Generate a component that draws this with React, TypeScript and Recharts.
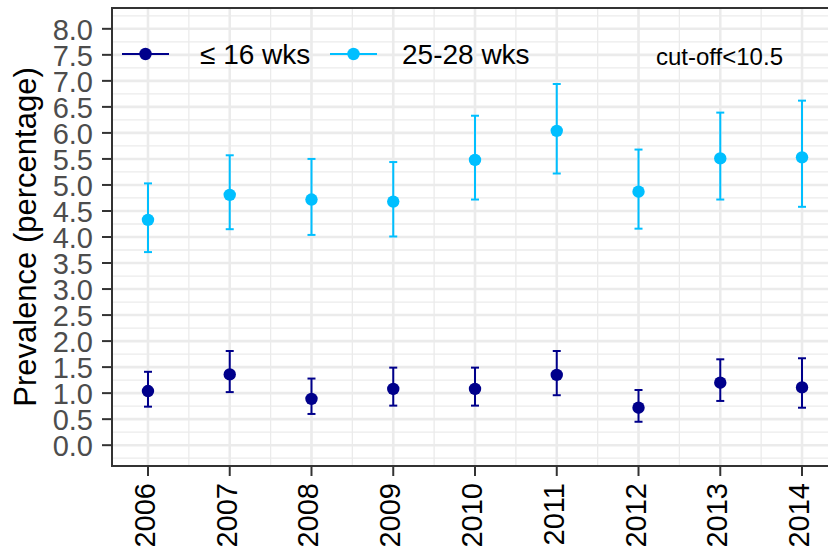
import React from "react";
import {
  ComposedChart,
  Scatter,
  ErrorBar,
  XAxis,
  YAxis,
  CartesianGrid,
  ReferenceArea,
} from "recharts";

// years on the x axis
const years = [2006, 2007, 2008, 2009, 2010, 2011, 2012, 2013, 2014];

// <= 16 weeks (navy)
const earlyValue = [1.04, 1.36, 0.89, 1.08, 1.08, 1.35, 0.72, 1.2, 1.11];
const earlyLow = [0.74, 1.02, 0.6, 0.76, 0.76, 0.96, 0.45, 0.85, 0.72];
const earlyHigh = [1.41, 1.81, 1.28, 1.49, 1.49, 1.81, 1.06, 1.65, 1.67];

// 25-28 weeks (sky blue)
const lateValue = [4.33, 4.81, 4.72, 4.68, 5.48, 6.04, 4.87, 5.51, 5.53];
const lateLow = [3.71, 4.15, 4.04, 4.01, 4.72, 5.22, 4.16, 4.72, 4.58];
const lateHigh = [5.03, 5.57, 5.5, 5.44, 6.33, 6.94, 5.68, 6.39, 6.62];

const yTicks = [0, 0.5, 1, 1.5, 2, 2.5, 3, 3.5, 4, 4.5, 5, 5.5, 6, 6.5, 7, 7.5, 8];
const yMinor = [-0.25, 0.25, 0.75, 1.25, 1.75, 2.25, 2.75, 3.25, 3.75, 4.25, 4.75, 5.25, 5.75, 6.25, 6.75, 7.25, 7.75, 8.25];
const xMinor = [2006.5, 2007.5, 2008.5, 2009.5, 2010.5, 2011.5, 2012.5, 2013.5];

const X_DOMAIN: [number, number] = [2005.56, 2014.44];
const Y_DOMAIN: [number, number] = [-0.4, 8.4];

const NAVY = "#00008B";
const SKY = "#00BFFF";
const FONT = "'Liberation Sans', Arial, sans-serif";

const build = (v: number[], lo: number[], hi: number[]) =>
  years.map((year, i) => ({ year, v: v[i], err: [v[i] - lo[i], hi[i] - v[i]] }));

const earlyData = build(earlyValue, earlyLow, earlyHigh);
const lateData = build(lateValue, lateLow, lateHigh);

const dot = (color: string) => (props: any) =>
  <circle cx={props.cx} cy={props.cy} r={6.2} fill={color} />;

const XTick = (props: any) => {
  const { x, y, payload } = props;
  return (
    <text
      x={x}
      y={y}
      dy={7}
      transform={`rotate(-90, ${x}, ${y})`}
      textAnchor="end"
      fill="#000"
      fontSize={29}
      fontFamily={FONT}
    >
      {payload.value}
    </text>
  );
};

const YTick = (props: any) => {
  const { x, y, payload } = props;
  return (
    <text
      x={x}
      y={y}
      dy={11}
      textAnchor="end"
      fill="#4D4D4D"
      fontSize={29}
      fontFamily={FONT}
    >
      {Number(payload.value).toFixed(1)}
    </text>
  );
};

const YTitle = () => (
  <text
    x={36}
    y={237}
    transform="rotate(-90, 36, 237)"
    textAnchor="middle"
    fontSize={31}
    fontFamily={FONT}
    fill="#000"
  >
    Prevalence (percentage)
  </text>
);

export default function App() {
  return (
    <div
      style={{
        position: "fixed",
        left: 0,
        top: 0,
        width: 828,
        height: 552,
        overflow: "hidden",
        background: "#fff",
        fontFamily: FONT,
      }}
    >
      <ComposedChart
        width={840}
        height={552}
        margin={{ top: 8, right: 2, bottom: 0, left: 0 }}
      >
        {/* minor grid */}
        <CartesianGrid
          stroke="#EBEBEB"
          strokeWidth={1.3}
          horizontalValues={yMinor}
          verticalValues={xMinor}
        />
        {/* major grid */}
        <CartesianGrid
          stroke="#EBEBEB"
          strokeWidth={2.6}
          horizontalValues={yTicks}
          verticalValues={years}
        />
        <XAxis
          type="number"
          dataKey="year"
          domain={X_DOMAIN}
          ticks={years}
          interval={0}
          allowDataOverflow
          height={86}
          tickSize={10}
          tickMargin={7}
          axisLine={false}
          tickLine={{ stroke: "#333333", strokeWidth: 2 }}
          tick={<XTick />}
        />
        <YAxis
          type="number"
          dataKey="v"
          domain={Y_DOMAIN}
          ticks={yTicks}
          interval={0}
          allowDataOverflow
          width={112}
          tickSize={10}
          tickMargin={9}
          axisLine={false}
          tickLine={{ stroke: "#333333", strokeWidth: 2 }}
          tick={<YTick />}
          label={{ content: <YTitle /> }}
        />
        <ReferenceArea
          x1={X_DOMAIN[0]}
          x2={X_DOMAIN[1]}
          y1={Y_DOMAIN[0]}
          y2={Y_DOMAIN[1]}
          fill="none"
          stroke="#333333"
          strokeWidth={2}
          ifOverflow="visible"
        />
        <Scatter
          name="≤ 16 wks"
          data={earlyData}
          dataKey="v"
          fill={NAVY}
          shape={dot(NAVY)}
          isAnimationActive={false}
        >
          <ErrorBar dataKey="err" direction="y" width={4} stroke={NAVY} strokeWidth={2} />
        </Scatter>
        <Scatter
          name="25-28 wks"
          data={lateData}
          dataKey="v"
          fill={SKY}
          shape={dot(SKY)}
          isAnimationActive={false}
        >
          <ErrorBar dataKey="err" direction="y" width={4} stroke={SKY} strokeWidth={2} />
        </Scatter>
      </ComposedChart>

      {/* legend */}
      <svg
        width={828}
        height={80}
        style={{ position: "absolute", left: 0, top: 0, pointerEvents: "none" }}
      >
        <line x1={122} y1={54} x2={169} y2={54} stroke={NAVY} strokeWidth={2} />
        <circle cx={145.5} cy={54} r={6.2} fill={NAVY} />
        <text x={200} y={54} dy={10} fontSize={28} fontFamily={FONT} fill="#000">
          ≤ 16 wks
        </text>
        <line x1={330} y1={54} x2={377} y2={54} stroke={SKY} strokeWidth={2} />
        <circle cx={353.5} cy={54} r={6.2} fill={SKY} />
        <text x={402} y={54} dy={10} fontSize={28} fontFamily={FONT} fill="#000">
          25-28 wks
        </text>
        <text x={656} y={56} dy={8.5} fontSize={24} fontFamily={FONT} fill="#000">
          cut-off&lt;10.5
        </text>
      </svg>
    </div>
  );
}
